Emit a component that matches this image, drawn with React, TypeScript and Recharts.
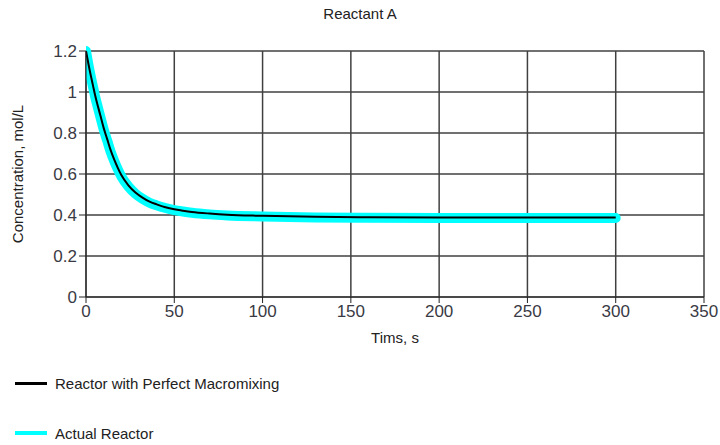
import React from "react";
import {
  LineChart,
  Line,
  XAxis,
  YAxis,
  CartesianGrid,
  Label,
} from "recharts";

// time points, s
const times = [0, 2, 4, 5, 6, 8, 10, 12, 14, 16, 18, 20, 24, 28, 32, 36, 40, 45, 50, 55, 60, 70, 80, 100, 130, 160, 200, 250, 300];
// Reactor with Perfect Macromixing, mol/L
const perfect = [1.2, 1.11, 1.03, 0.99, 0.955, 0.89, 0.825, 0.77, 0.715, 0.67, 0.63, 0.595, 0.545, 0.51, 0.485, 0.465, 0.452, 0.438, 0.428, 0.421, 0.415, 0.407, 0.401, 0.396, 0.391, 0.389, 0.388, 0.388, 0.388];
// Actual Reactor, mol/L
const actual = [1.2, 1.105, 1.024, 0.984, 0.949, 0.883, 0.818, 0.763, 0.708, 0.663, 0.623, 0.588, 0.539, 0.504, 0.479, 0.46, 0.447, 0.434, 0.424, 0.417, 0.411, 0.403, 0.398, 0.393, 0.388, 0.386, 0.385, 0.385, 0.385];

const xTicks = [0, 50, 100, 150, 200, 250, 300, 350];
const yTicks = [0, 0.2, 0.4, 0.6, 0.8, 1, 1.2];

const data = times.map((t, i) => ({ t, perfect: perfect[i], actual: actual[i] }));

const FONT = "'Liberation Sans', Arial, sans-serif";
const tickStyle = { fontSize: 17, fill: "#3a3a44", fontFamily: FONT };

export default function App() {
  return (
    <div
      style={{
        position: "absolute",
        left: 0,
        top: 0,
        width: 720,
        height: 445,
        background: "#fff",
        fontFamily: FONT,
      }}
    >
      <div
        style={{
          position: "absolute",
          top: 5,
          left: 0,
          width: 720,
          textAlign: "center",
          fontSize: 15,
          color: "#222",
        }}
      >
        Reactant A
      </div>
      <LineChart
        width={720}
        height={445}
        data={data}
        margin={{ top: 51, right: 16, bottom: 118, left: 26 }}
      >
        <CartesianGrid stroke="#404040" strokeWidth={1.5} />
        <XAxis
          type="number"
          dataKey="t"
          domain={[0, 350]}
          ticks={xTicks}
          interval={0}
          height={30}
          tick={tickStyle}
          tickSize={6}
          stroke="#222"
          allowDataOverflow
        >
          <Label
            value="Tims, s"
            position="insideBottom"
            offset={-16}
            style={{ fontSize: 15, fill: "#222", fontFamily: FONT }}
          />
        </XAxis>
        <YAxis
          type="number"
          domain={[0, 1.2]}
          ticks={yTicks}
          interval={0}
          width={60}
          tick={tickStyle}
          tickSize={7}
          stroke="#222"
        >
          <Label
            value="Concentration, mol/L"
            angle={-90}
            position="insideLeft"
            offset={-8}
            style={{ fontSize: 15, fill: "#222", fontFamily: FONT, textAnchor: "middle" }}
          />
        </YAxis>
        <Line
          dataKey="actual"
          type="monotone"
          stroke="#00ffff"
          strokeWidth={10}
          strokeLinecap="round"
          strokeLinejoin="round"
          dot={false}
          isAnimationActive={false}
        />
        <Line
          dataKey="perfect"
          type="monotone"
          stroke="#000"
          strokeWidth={2}
          dot={false}
          isAnimationActive={false}
        />
      </LineChart>
      <div style={{ position: "absolute", left: 15, top: 373, fontSize: 15, color: "#222" }}>
        <div style={{ display: "flex", alignItems: "center", height: 20 }}>
          <span style={{ display: "inline-block", width: 32, height: 3, background: "#000", marginRight: 8 }} />
          Reactor with Perfect Macromixing
        </div>
        <div style={{ display: "flex", alignItems: "center", height: 20, marginTop: 30 }}>
          <span style={{ display: "inline-block", width: 32, height: 4, background: "#00ffff", marginRight: 8 }} />
          Actual Reactor
        </div>
      </div>
    </div>
  );
}
